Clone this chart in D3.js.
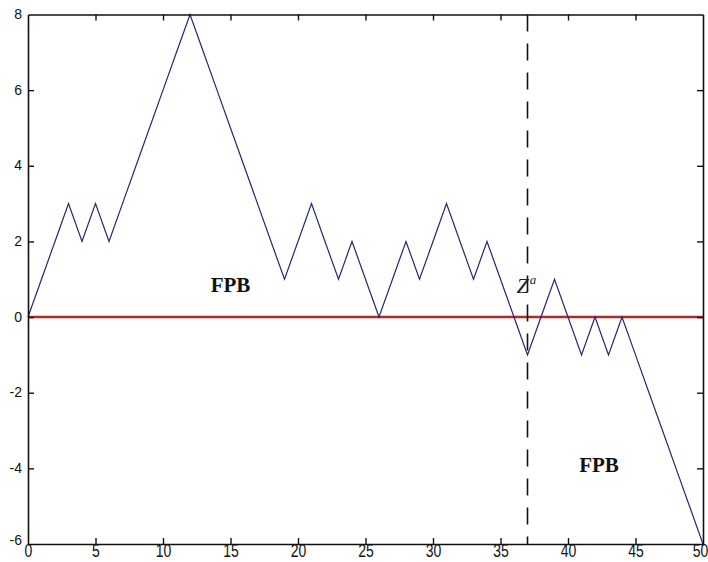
<!DOCTYPE html>
<html><head><meta charset="utf-8">
<script src="https://cdn.jsdelivr.net/npm/d3@7"></script>
<style>html,body{margin:0;padding:0;background:#fff;}svg{display:block;}</style>
</head><body>
<svg id="chart" width="708" height="562"></svg>
<script>
// Data
const steps = [0,1,2,3,4,5,6,7,8,9,10,11,12,13,14,15,16,17,18,19,20,21,22,23,24,25,26,27,28,29,30,31,32,33,34,35,36,37,38,39,40,41,42,43,44,45,46,47,48,49,50];
const walk  = [0,1,2,3,2,3,2,3,4,5,6,7,8,7,6,5,4,3,2,1,2,3,2,1,2,1,0,1,2,1,2,3,2,1,2,1,0,-1,0,1,0,-1,0,-1,0,-1,-2,-3,-4,-5,-6];
const xTicks = [0,5,10,15,20,25,30,35,40,45,50];
const yTicks = [-6,-4,-2,0,2,4,6,8];
const zeroLevel = [0];
const markerX = [37];
const labels = [
  {text:"FPB", x:15, y:0.65},
  {text:"FPB", x:42.3, y:-4.1}
];
const zLabel = {x:37, y:0.65};

const W = 708, H = 562;
const m = {left:28, right:5, top:14.5, bottom:18};
const svg = d3.select("#chart");
const x = d3.scaleLinear().domain([0,50]).range([m.left, W - m.right]);
const y = d3.scaleLinear().domain([-6,8]).range([H - m.bottom, m.top]);
const fmt = d => String(d);

svg.append("rect").attr("width",W).attr("height",H).attr("fill","#fff");

// zero line (red)
svg.selectAll(".zero").data(zeroLevel).enter().append("line")
  .attr("x1", x(0)).attr("x2", x(50))
  .attr("y1", d=>y(d)).attr("y2", d=>y(d))
  .attr("stroke","#b02a2a").attr("stroke-width",2.6);

// dashed vertical marker
svg.selectAll(".marker").data(markerX).enter().append("line")
  .attr("x1", d=>x(d)).attr("x2", d=>x(d))
  .attr("y1", y(8)).attr("y2", y(-6))
  .attr("stroke","#111").attr("stroke-width",1.6)
  .attr("stroke-dasharray","17,12");

// walk line
const line = d3.line().x((d,i)=>x(steps[i])).y(d=>y(d));
svg.append("path").datum(walk)
  .attr("d", line).attr("fill","none")
  .attr("stroke","#25286e").attr("stroke-width",1.2);

// axes with inward ticks on all four sides
const tickLen = 6;
const axB = svg.append("g").attr("transform",`translate(0,${y(-6)})`)
  .call(d3.axisBottom(x).tickValues(xTicks).tickFormat(fmt).tickSizeInner(-tickLen).tickSizeOuter(0).tickPadding(4));
const axT = svg.append("g").attr("transform",`translate(0,${y(8)})`)
  .call(d3.axisTop(x).tickValues(xTicks).tickSizeInner(-tickLen).tickSizeOuter(0).tickFormat(""));
const axL = svg.append("g").attr("transform",`translate(${x(0)},0)`)
  .call(d3.axisLeft(y).tickValues(yTicks).tickFormat(fmt).tickSizeInner(-tickLen).tickSizeOuter(0).tickPadding(6));
const axR = svg.append("g").attr("transform",`translate(${x(50)},0)`)
  .call(d3.axisRight(y).tickValues(yTicks).tickSizeInner(-tickLen).tickSizeOuter(0).tickFormat(""));

[axB,axT,axL,axR].forEach(a=>{
  a.select(".domain").attr("stroke","#111").attr("stroke-width",1.6);
  a.selectAll(".tick line").attr("stroke","#111").attr("stroke-width",1.4);
  a.selectAll(".tick text").attr("fill","#111")
    .attr("font-family","'Liberation Sans', Arial, sans-serif").attr("font-size",14);
});
// remove end ticks that coincide with frame
axB.selectAll(".tick line").filter(d=>d===0||d===50).remove();
axT.selectAll(".tick line").filter(d=>d===0||d===50).remove();
axL.selectAll(".tick line").filter(d=>d===-6||d===8).remove();
axR.selectAll(".tick line").filter(d=>d===-6||d===8).remove();

// x tick labels: tall, slightly stretched
axB.selectAll(".tick text")
  .attr("y", 0).attr("dy", null)
  .attr("transform", `translate(0,${557 - y(-6)}) scale(1,1.3)`);
axB.selectAll(".tick text").filter(d=>d===50).attr("x", -3);
axL.selectAll(".tick text").attr("x", -6).attr("dy","0.3em");
axL.selectAll(".tick text").filter(d=>d===-6).attr("dy","0.05em");

// FPB labels
svg.selectAll(".fpb").data(labels).enter().append("text")
  .attr("x", d=>x(d.x)).attr("y", d=>y(d.y))
  .attr("text-anchor","middle")
  .attr("font-family","'Liberation Serif','Times New Roman',serif")
  .attr("font-weight","bold").attr("font-size",21).attr("fill","#111")
  .text(d=>d.text);

// Z^a label
const zt = svg.append("text")
  .attr("x", x(zLabel.x)-11).attr("y", y(zLabel.y)+0.5)
  .attr("font-family","'Liberation Serif','Times New Roman',serif")
  .attr("font-style","italic").attr("font-size",22).attr("fill","#222");
zt.append("tspan").text("Z");
zt.append("tspan").attr("font-size",13).attr("dy",-9).attr("dx",1).text("a");
</script>
</body></html>
